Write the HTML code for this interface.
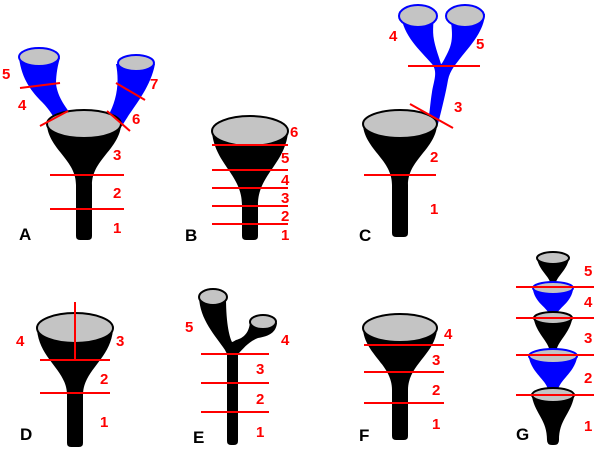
<!DOCTYPE html>
<html><head><meta charset="utf-8"><style>
html,body{margin:0;padding:0;background:#fff}
svg{display:block}
.r{fill:#f00;font:bold 15px "Liberation Sans",sans-serif}
.k{fill:#000;font:bold 17px "Liberation Sans",sans-serif}
line{stroke:#f00;stroke-width:2}
.g{fill:#c4c4c4;stroke:#000;stroke-width:2}
.gb{fill:#c4c4c4;stroke:#00f;stroke-width:2}
</style></head><body>
<svg width="600" height="451" viewBox="0 0 600 451" xmlns="http://www.w3.org/2000/svg">
<!-- A -->
<path d="M19,58 C22,80 32,92 42,102 C50,110 54,118 58,124 L74,118 C66,108 58,98 56,84 C56,74 58,64 60,58 Z" fill="#00f"/>
<path d="M116,64 C120,84 116,102 108,116 L122,126 C132,108 150,90 155,64 Z" fill="#00f"/>
<ellipse cx="39" cy="57" rx="20" ry="9" class="gb"/>
<ellipse cx="136" cy="63" rx="18" ry="8" class="gb"/>
<path d="M47,126 C50,150 76,160 76,185 L76,236 Q76,240 80,240 L88,240 Q92,240 92,236 L92,185 C92,160 118,150 121,126 Z" fill="#000"/>
<ellipse cx="84" cy="124" rx="37" ry="14" class="g"/>
<line x1="20" y1="88" x2="60" y2="83"/><line x1="40" y1="126" x2="68" y2="111"/>
<line x1="107" y1="111" x2="130" y2="131"/><line x1="116" y1="83" x2="145" y2="100"/>
<line x1="50" y1="175" x2="124" y2="175"/><line x1="50" y1="209" x2="124" y2="209"/>
<text class="r" x="2" y="79">5</text><text class="r" x="18" y="110">4</text>
<text class="r" x="150" y="89">7</text><text class="r" x="132" y="124">6</text>
<text class="r" x="113" y="160">3</text><text class="r" x="113" y="198">2</text><text class="r" x="113" y="233">1</text>
<text class="k" x="19" y="240">A</text>
<!-- B -->
<path d="M212,133 C216,165 242,175 242,205 L242,236 Q242,240 246,240 L254,240 Q258,240 258,236 L258,205 C258,175 284,165 288,133 Z" fill="#000"/>
<ellipse cx="250" cy="131" rx="38" ry="15" class="g"/>
<line x1="212" y1="145" x2="288" y2="145"/><line x1="212" y1="170" x2="288" y2="170"/>
<line x1="212" y1="188" x2="288" y2="188"/><line x1="212" y1="206" x2="288" y2="206"/>
<line x1="212" y1="224" x2="288" y2="224"/>
<text class="r" x="290" y="137">6</text><text class="r" x="281" y="163">5</text>
<text class="r" x="281" y="185">4</text><text class="r" x="281" y="203">3</text>
<text class="r" x="281" y="221">2</text><text class="r" x="281" y="240">1</text>
<text class="k" x="185" y="241">B</text>
<!-- C -->
<path d="M401,14 C403,36 420,50 432,64 C438,72 434,80 432,92 C430,104 430,112 428,120 L438,124 C442,108 446,92 448,80 C450,70 456,64 462,56 C472,44 484,30 485,14 L450,14 C452,30 454,40 448,52 C444,60 442,64 441,64 C440,60 436,50 434,40 C432,30 434,20 434,14 Z" fill="#00f"/>
<ellipse cx="418" cy="16" rx="19" ry="11" class="gb"/>
<ellipse cx="465" cy="16" rx="19" ry="11" class="gb"/>
<path d="M363,126 C366,150 392,160 392,185 L392,233 Q392,237 396,237 L404,237 Q408,237 408,233 L408,185 C408,160 434,150 437,126 Z" fill="#000"/>
<ellipse cx="400" cy="124" rx="37" ry="14" class="g"/>
<line x1="408" y1="66" x2="480" y2="66"/><line x1="410" y1="104" x2="453" y2="128"/>
<line x1="364" y1="175" x2="436" y2="175"/>
<text class="r" x="389" y="41">4</text><text class="r" x="476" y="49">5</text>
<text class="r" x="454" y="112">3</text><text class="r" x="430" y="162">2</text><text class="r" x="430" y="214">1</text>
<text class="k" x="359" y="241">C</text>
<!-- D -->
<path d="M37,330 C40,360 67,370 67,395 L67,443 Q67,447 71,447 L79,447 Q83,447 83,443 L83,395 C83,370 110,360 113,330 Z" fill="#000"/>
<ellipse cx="75" cy="328" rx="38" ry="15" class="g"/>
<line x1="75" y1="302" x2="75" y2="360"/>
<line x1="40" y1="360" x2="110" y2="360"/><line x1="40" y1="393" x2="110" y2="393"/>
<text class="r" x="16" y="346">4</text><text class="r" x="116" y="346">3</text>
<text class="r" x="100" y="384">2</text><text class="r" x="100" y="427">1</text>
<text class="k" x="20" y="440">D</text>
<!-- E -->
<path d="M199,297 C200,320 215,335 225,350 L227,354 L227,441 Q227,445 231,445 L234,445 Q238,445 238,441 L238,354 C244,348 248,342 258,338 C270,336 276,332 277,323 L250,320 C250,332 244,338 236,340 C233,342 232,342 232,342 C230,338 226,326 226,297 Z" fill="#000"/>
<ellipse cx="213" cy="297" rx="14" ry="8" class="g"/>
<ellipse cx="263" cy="322" rx="13" ry="7" class="g"/>
<line x1="201" y1="354" x2="269" y2="354"/><line x1="201" y1="383" x2="269" y2="383"/>
<line x1="201" y1="412" x2="269" y2="412"/>
<text class="r" x="185" y="332">5</text><text class="r" x="281" y="345">4</text>
<text class="r" x="256" y="374">3</text><text class="r" x="256" y="404">2</text><text class="r" x="256" y="437">1</text>
<text class="k" x="193" y="443">E</text>
<!-- F -->
<path d="M363,330 C366,355 392,365 392,390 L392,436 Q392,440 396,440 L404,440 Q408,440 408,436 L408,390 C408,365 434,355 437,330 Z" fill="#000"/>
<ellipse cx="400" cy="328" rx="37" ry="14" class="g"/>
<line x1="364" y1="345" x2="444" y2="345"/><line x1="364" y1="372" x2="444" y2="372"/>
<line x1="364" y1="403" x2="444" y2="403"/>
<text class="r" x="444" y="339">4</text><text class="r" x="432" y="365">3</text>
<text class="r" x="432" y="395">2</text><text class="r" x="432" y="429">1</text>
<text class="k" x="359" y="441">F</text>
<!-- G -->
<path d="M537,259 C540,272 550,276 551,286 L555,286 C556,276 566,272 569,259 Z" fill="#000"/>
<ellipse cx="553" cy="258" rx="16" ry="6" class="g"/>
<path d="M533,290 C536,305 550,308 550,318 L556,318 C556,308 570,305 573,290 Z" fill="#00f"/>
<ellipse cx="553" cy="288" rx="20" ry="6" class="gb"/>
<path d="M534,320 C538,336 550,342 550,354 L556,354 C556,342 568,336 572,320 Z" fill="#000"/>
<ellipse cx="553" cy="318" rx="19" ry="6" class="g"/>
<path d="M529,358 C533,375 548,380 549,394 L557,394 C558,380 573,375 577,358 Z" fill="#00f"/>
<ellipse cx="553" cy="356" rx="24" ry="7" class="gb"/>
<path d="M532,397 C536,415 547,420 547,440 Q547,445 552,445 L554,445 Q559,445 559,440 C559,420 570,415 574,397 Z" fill="#000"/>
<ellipse cx="553" cy="395" rx="21" ry="7" class="g"/>
<line x1="516" y1="287" x2="594" y2="287"/><line x1="516" y1="318" x2="594" y2="318"/>
<line x1="516" y1="355" x2="594" y2="355"/><line x1="516" y1="395" x2="594" y2="395"/>
<text class="r" x="584" y="276">5</text><text class="r" x="584" y="307">4</text>
<text class="r" x="584" y="343">3</text><text class="r" x="584" y="383">2</text>
<text class="r" x="584" y="431">1</text>
<text class="k" x="516" y="440">G</text>
</svg>
</body></html>
